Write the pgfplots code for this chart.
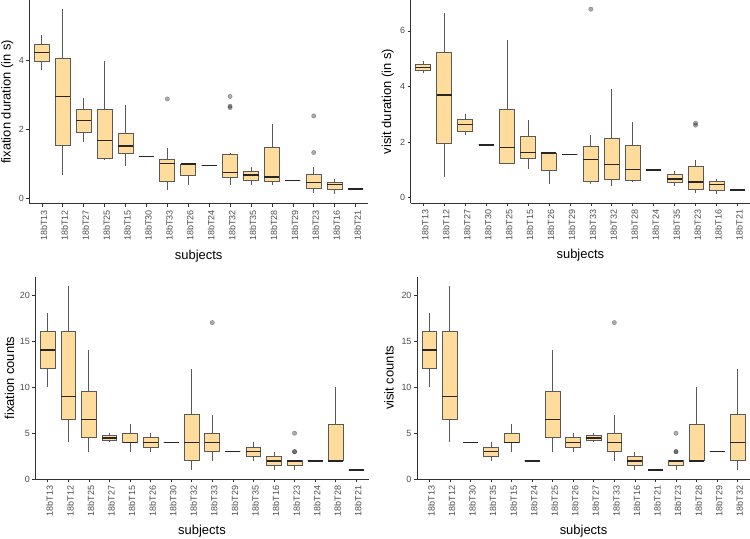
\documentclass[border=0pt]{standalone}
\usepackage{fontspec}
\setmainfont{Liberation Sans}
\usepackage{pgfplots}
\usepgfplotslibrary{statistics}
\pgfplotsset{compat=1.18}

\definecolor{boxfill}{HTML}{FFDC9B}
\definecolor{boxline}{HTML}{595959}
\definecolor{ticktext}{HTML}{4D4D4D}

\pgfplotsset{
  panel/.style={
    axis lines*=left,
    scale only axis, anchor=south west, clip=false,
    axis line style={draw=black!80, line width=0.6bp, -},
    tick align=outside, major tick length=3bp,
    tick style={draw=black!80, line width=0.6bp},
    xtick={0,...,15}, xmin=-0.6, xmax=15.6,
    xticklabel style={rotate=90, anchor=east, font=\fontsize{9}{10}\selectfont, text=ticktext, yshift=-2bp},
    yticklabel style={font=\fontsize{9}{10}\selectfont, text=ticktext, xshift=1bp},
    /pgf/number format/assume math mode=true,
    xlabel={subjects},
    xlabel style={at={(axis description cs:0.5,0)}, anchor=center, yshift=-52bp, font=\fontsize{13}{15}\selectfont},
    ylabel style={at={(axis description cs:0,0.5)}, anchor=center, font=\fontsize{13}{15}\selectfont},
    boxplot/draw direction=y,
    boxplot/box extend=0.72,
    boxplot/whisker extend=0,
    boxplot/every box/.style={draw=boxline, fill=boxfill, line width=0.8bp},
    boxplot/every median/.style={draw=black!85, line width=1.5bp},
    boxplot/every whisker/.style={draw=boxline, line width=0.8bp},
  },
  bx/.style={solid, mark=*, mark size=2.2bp,
    mark options={draw=none, fill=black, opacity=0.33}},
}

% \bx[outliers]{position}{lower whisker}{lower quartile}{median}{upper quartile}{upper whisker}
\newcommand{\bx}[7][]{\addplot[bx, boxplot prepared={draw position=#2,
  lower whisker=#3, lower quartile=#4, median=#5,
  upper quartile=#6, upper whisker=#7}] coordinates {#1};}

\begin{document}
\begin{tikzpicture}
\useasboundingbox (0,0) rectangle (750bp,539bp);

% fixation duration
\begin{axis}[panel, at={(29.3bp,335.3bp)}, width=338.8bp, height=203.7bp,
  ymin=-0.15, ymax=5.74, ytick={0,2,4},
  ylabel={fixation duration (in s)}, ylabel style={yshift=22bp},
  xticklabels={18bT13,18bT12,18bT27,18bT25,18bT15,18bT30,18bT33,18bT26,18bT24,18bT32,18bT35,18bT28,18bT29,18bT23,18bT16,18bT21}]
\bx{0}{3.71}{3.95}{4.22}{4.46}{4.74}
\bx{1}{0.69}{1.55}{2.95}{4.06}{5.47}
\bx{2}{1.62}{1.92}{2.26}{2.58}{2.91}
\bx{3}{1.11}{1.16}{1.68}{2.58}{3.97}
\bx{4}{0.93}{1.30}{1.52}{1.88}{2.69}
\bx{5}{1.21}{1.21}{1.21}{1.21}{1.21}
\bx[(6,2.88)]{6}{0.25}{0.50}{1.01}{1.14}{1.45}
\bx{7}{0.38}{0.67}{1.00}{1.00}{1.00}
\bx{8}{0.95}{0.95}{0.95}{0.95}{0.95}
\bx[(9,2.95) (9,2.67) (9,2.63)]{9}{0.40}{0.62}{0.75}{1.28}{1.31}
\bx{10}{0.40}{0.52}{0.68}{0.77}{0.90}
\bx{11}{0.40}{0.50}{0.62}{1.48}{2.15}
\bx{12}{0.52}{0.52}{0.52}{0.52}{0.52}
\bx[(13,2.39) (13,1.33)]{13}{0.17}{0.30}{0.46}{0.69}{0.90}
\bx{14}{0.12}{0.25}{0.40}{0.48}{0.56}
\bx{15}{0.27}{0.27}{0.27}{0.27}{0.27}
\end{axis}

% visit duration
\begin{axis}[panel, at={(410.7bp,335.7bp)}, width=339.3bp, height=203.3bp,
  ymin=-0.2, ymax=7.11, ytick={0,2,4,6},
  ylabel={visit duration (in s)}, ylabel style={yshift=23bp},
  xticklabels={18bT13,18bT12,18bT27,18bT30,18bT25,18bT15,18bT26,18bT29,18bT33,18bT32,18bT28,18bT24,18bT35,18bT23,18bT16,18bT21}]
\bx{0}{4.48}{4.57}{4.68}{4.80}{4.92}
\bx{1}{0.75}{1.94}{3.69}{5.22}{6.66}
\bx{2}{2.25}{2.39}{2.64}{2.81}{3.00}
\bx{3}{1.90}{1.90}{1.90}{1.90}{1.90}
\bx{4}{1.20}{1.24}{1.81}{3.18}{5.68}
\bx{5}{1.02}{1.42}{1.63}{2.20}{2.79}
\bx{6}{0.48}{1.00}{1.61}{1.61}{1.61}
\bx{7}{1.56}{1.56}{1.56}{1.56}{1.56}
\bx[(8,6.78)]{8}{0.50}{0.59}{1.38}{1.83}{2.26}
\bx{9}{0.42}{0.66}{1.20}{2.14}{3.90}
\bx{10}{0.57}{0.63}{1.02}{1.89}{2.71}
\bx{11}{1.00}{1.00}{1.00}{1.00}{1.00}
\bx{12}{0.42}{0.54}{0.68}{0.83}{0.97}
\bx[(13,2.68) (13,2.61)]{13}{0.17}{0.30}{0.57}{1.14}{1.37}
\bx{14}{0.13}{0.27}{0.48}{0.58}{0.68}
\bx{15}{0.28}{0.28}{0.28}{0.28}{0.28}
\end{axis}

% fixation counts
\begin{axis}[panel, at={(35.4bp,59.7bp)}, width=333.2bp, height=202.8bp,
  ymin=0, ymax=22, ytick={0,5,10,15,20},
  ylabel={fixation counts}, ylabel style={yshift=26bp},
  xticklabels={18bT13,18bT12,18bT25,18bT27,18bT15,18bT26,18bT30,18bT32,18bT33,18bT29,18bT35,18bT16,18bT23,18bT24,18bT28,18bT21}]
\bx{0}{10}{12}{14}{16}{18}
\bx{1}{4}{6.5}{9}{16}{21}
\bx{2}{3}{4.5}{6.5}{9.5}{14}
\bx{3}{4}{4.25}{4.5}{4.75}{5}
\bx{4}{3}{4}{4}{5}{6}
\bx{5}{3}{3.5}{4}{4.5}{5}
\bx{6}{4}{4}{4}{4}{4}
\bx{7}{1}{2}{4}{7}{12}
\bx[(8,17)]{8}{2}{3}{4}{5}{7}
\bx{9}{3}{3}{3}{3}{3}
\bx{10}{2}{2.5}{3}{3.5}{4}
\bx{11}{1}{1.5}{2}{2.5}{3}
\bx[(12,3) (12,3) (12,5)]{12}{1}{1.5}{2}{2}{2}
\bx{13}{2}{2}{2}{2}{2}
\bx{14}{2}{2}{2}{6}{10}
\bx{15}{1}{1}{1}{1}{1}
\end{axis}

% visit counts
\begin{axis}[panel, at={(417bp,59.7bp)}, width=333bp, height=202.8bp,
  ymin=0, ymax=22, ytick={0,5,10,15,20},
  ylabel={visit counts}, ylabel style={yshift=28bp},
  xticklabels={18bT13,18bT12,18bT30,18bT35,18bT15,18bT24,18bT25,18bT26,18bT27,18bT33,18bT16,18bT21,18bT23,18bT28,18bT29,18bT32}]
\bx{0}{10}{12}{14}{16}{18}
\bx{1}{4}{6.5}{9}{16}{21}
\bx{2}{4}{4}{4}{4}{4}
\bx{3}{2}{2.5}{3}{3.5}{4}
\bx{4}{3}{4}{4}{5}{6}
\bx{5}{2}{2}{2}{2}{2}
\bx{6}{3}{4.5}{6.5}{9.5}{14}
\bx{7}{3}{3.5}{4}{4.5}{5}
\bx{8}{4}{4.25}{4.5}{4.75}{5}
\bx[(9,17)]{9}{2}{3}{4}{5}{7}
\bx{10}{1}{1.5}{2}{2.5}{3}
\bx{11}{1}{1}{1}{1}{1}
\bx[(12,3) (12,3) (12,5)]{12}{1}{1.5}{2}{2}{2}
\bx{13}{2}{2}{2}{6}{10}
\bx{14}{3}{3}{3}{3}{3}
\bx{15}{1}{2}{4}{7}{12}
\end{axis}
\end{tikzpicture}
\end{document}
